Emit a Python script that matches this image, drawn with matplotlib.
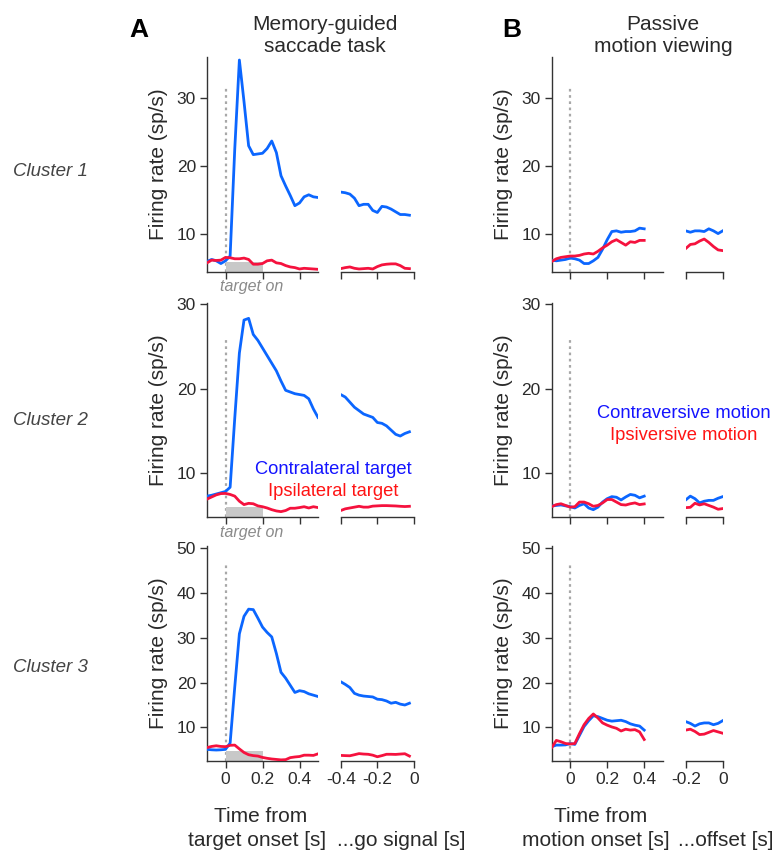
import matplotlib
matplotlib.use("Agg")
import matplotlib.pyplot as plt

plt.rcParams["font.family"] = ["Liberation Sans", "DejaVu Sans"]
plt.rcParams["axes.unicode_minus"] = False

# ---- data -------------------------------------------------------------
# memory-guided saccade task, aligned to target onset / go signal
mg_t_on = [-0.1, -0.075, -0.05, -0.025, 0.0, 0.025, 0.05, 0.075, 0.1, 0.125,
           0.15, 0.175, 0.2, 0.225, 0.25, 0.275, 0.3, 0.325, 0.35, 0.375,
           0.4, 0.425, 0.45, 0.475, 0.5]
mg_t_go = [-0.4, -0.375, -0.35, -0.325, -0.3, -0.275, -0.25, -0.225, -0.2,
           -0.175, -0.15, -0.125, -0.1, -0.075, -0.05, -0.025]

mg1_contra_on = [6.0, 6.3, 6.1, 5.7, 6.1, 6.8, 22.5, 35.6, 29.5, 23.0, 21.7, 21.8,
                 21.9, 22.6, 23.7, 22.0, 18.6, 17.1, 15.7, 14.2, 14.6, 15.5, 15.8,
                 15.5, 15.4]
mg1_ipsi_on = [5.8, 6.2, 6.15, 6.2, 6.6, 6.55, 6.4, 6.4, 6.5, 6.3, 5.6, 5.6, 5.7,
               6.1, 6.2, 5.8, 5.7, 5.4, 5.2, 5.1, 4.9, 5.0, 4.95, 4.9, 4.85]
mg1_contra_go = [16.2, 16.1, 15.9, 15.3, 14.2, 14.4, 14.4, 13.5, 13.2, 14.1, 14.0,
                 13.7, 13.3, 12.9, 12.9, 12.8]
mg1_ipsi_go = [4.95, 5.1, 5.2, 5.0, 4.9, 4.95, 5.0, 4.9, 5.25, 5.5, 5.6, 5.65,
               5.65, 5.4, 5.0, 4.95]

mg2_contra_on = [7.3, 7.4, 7.55, 7.7, 7.85, 8.35, 16.5, 24.2, 28.1, 28.3, 26.4,
                 25.7, 24.8, 23.9, 23.0, 22.1, 20.9, 19.8, 19.6, 19.4, 19.3, 19.2,
                 18.8, 17.6, 16.6]
mg2_ipsi_on = [6.95, 7.2, 7.45, 7.6, 7.62, 7.5, 7.3, 6.7, 6.3, 6.45, 6.4, 6.15,
               6.05, 5.9, 5.7, 5.55, 5.47, 5.6, 5.87, 5.87, 5.95, 6.05, 5.9, 6.05,
               5.95]
mg2_contra_go = [19.3, 19.0, 18.4, 17.8, 17.4, 17.0, 16.8, 16.6, 16.0, 15.9, 15.6,
                 15.1, 14.6, 14.4, 14.7, 14.9]
mg2_ipsi_go = [5.6, 5.8, 5.9, 6.0, 6.1, 6.0, 6.0, 6.12, 6.15, 6.18, 6.18, 6.16,
               6.14, 6.1, 6.07, 6.1]

mg3_contra_on = [5.1, 5.0, 4.95, 5.0, 5.1, 6.5, 19.0, 30.9, 34.8, 36.4, 36.3, 34.4,
                 32.4, 31.2, 30.2, 26.5, 22.3, 21.0, 19.4, 17.8, 18.2, 18.0, 17.5,
                 17.2, 16.9]
mg3_ipsi_on = [5.5, 5.75, 5.9, 5.75, 5.7, 6.0, 6.05, 5.2, 4.4, 3.9, 3.7, 3.6, 3.3,
               3.1, 2.95, 2.85, 2.75, 2.8, 3.25, 3.4, 3.5, 3.8, 3.8, 3.75, 4.1]
mg3_contra_go = [20.2, 19.6, 18.9, 17.6, 17.2, 17.0, 16.9, 16.8, 16.3, 16.2, 15.9,
                 15.4, 15.6, 15.2, 15.0, 15.4]
mg3_ipsi_go = [3.75, 3.7, 3.67, 3.9, 4.15, 4.05, 4.0, 3.8, 3.45, 3.7, 4.0, 4.0,
               3.97, 4.05, 4.12, 3.6]

# passive motion viewing, aligned to motion onset / offset
pm_t_on = [-0.1, -0.075, -0.05, -0.025, 0.0, 0.025, 0.05, 0.075, 0.1, 0.125, 0.15,
           0.175, 0.2, 0.225, 0.25, 0.275, 0.3, 0.325, 0.35, 0.375, 0.4]
pm_t_off = [-0.2, -0.175, -0.15, -0.125, -0.1, -0.075, -0.05, -0.025, 0.0]

pm1_contra_on = [6.2, 6.1, 6.2, 6.3, 6.5, 6.4, 6.2, 5.7, 5.7, 6.1, 6.6, 7.8, 9.2,
                 10.4, 10.5, 10.3, 10.4, 10.4, 10.5, 10.9, 10.8]
pm1_ipsi_on = [6.0, 6.4, 6.6, 6.7, 6.8, 6.8, 6.9, 7.1, 7.2, 7.1, 7.5, 8.0, 8.4, 8.9,
               9.2, 8.8, 8.4, 8.9, 8.8, 9.1, 9.1]
pm1_contra_off = [10.5, 10.3, 10.5, 10.5, 10.4, 10.8, 10.5, 10.1, 10.5]
pm1_ipsi_off = [7.9, 8.5, 8.6, 9.0, 9.3, 8.8, 8.2, 7.7, 7.6]

pm2_contra_on = [6.14, 6.2, 6.26, 6.15, 6.06, 5.9, 6.2, 6.4, 5.9, 5.7, 6.0, 6.6, 7.0,
                 7.24, 7.17, 6.85, 7.2, 7.5, 7.4, 7.1, 7.3]
pm2_ipsi_on = [6.06, 6.3, 6.4, 6.2, 6.0, 6.05, 6.6, 6.6, 6.4, 6.1, 6.2, 6.5, 6.9,
               6.9, 6.6, 6.3, 6.25, 6.4, 6.5, 6.3, 6.38]
pm2_contra_off = [6.85, 7.3, 7.0, 6.5, 6.7, 6.8, 6.8, 7.05, 7.24]
pm2_ipsi_off = [5.94, 5.98, 6.46, 6.26, 6.4, 6.2, 6.0, 5.75, 5.83]

pm3_contra_on = [5.7, 6.05, 6.05, 6.1, 6.4, 6.2, 8.2, 10.2, 11.5, 12.6, 12.4, 12.0,
                 11.6, 11.4, 11.5, 11.6, 11.3, 10.8, 10.5, 10.3, 9.4]
pm3_ipsi_on = [5.5, 7.1, 6.8, 6.4, 6.3, 6.4, 8.6, 10.6, 12.0, 13.0, 12.1, 11.0, 10.5,
               10.1, 9.8, 9.2, 9.6, 9.4, 9.5, 9.0, 7.3]
pm3_contra_off = [11.3, 10.9, 10.3, 10.8, 11.0, 11.0, 10.6, 10.9, 11.5]
pm3_ipsi_off = [9.4, 9.6, 9.1, 8.4, 8.5, 8.9, 9.3, 9.0, 8.7]

cluster_names = ["Cluster 1", "Cluster 2", "Cluster 3"]
row_ylims = [(4.5, 36.0), (4.8, 30.15), (2.5, 50.5)]
row_yticks = [[10, 20, 30], [10, 20, 30], [10, 20, 30, 40, 50]]
row_marker_top = [31.5, 25.9, 47.0]

# ---- style --------------------------------------------------------------
BLUE = "#0b66ff"
RED = "#f5123e"
TEXT = "#2a2a2a"
SPINE = "#333333"

W, H = 777, 857
fig = plt.figure(figsize=(W / 100, H / 100), dpi=100)


def add_ax(x0, x1, y0, y1):
    """Axes placed in pixel coordinates (top-left origin)."""
    return fig.add_axes([x0 / W, 1 - y1 / H, (x1 - x0) / W, (y1 - y0) / H])


def style(ax, show_left):
    for s in ("top", "right"):
        ax.spines[s].set_visible(False)
    ax.spines["left"].set_visible(show_left)
    for s in ("left", "bottom"):
        ax.spines[s].set_color(SPINE)
        ax.spines[s].set_linewidth(1.0)
    ax.tick_params(direction="out", length=5, width=1, color=SPINE,
                   labelsize=12.5, labelcolor=TEXT, pad=3)
    if not show_left:
        ax.tick_params(axis="y", left=False, labelleft=False)


def ftext(px, py, s, **kw):
    fig.text(px / W, 1 - py / H, s, **kw)


rows_y = [(57.3, 271.7), (302.7, 517.3), (546.0, 761.0)]
cluster_y = [172, 420, 668]
# (main x0, main x1, second x0, second x1)
col_x = [(207.0, 318.0, 340.7, 414.0), (551.7, 662.7, 685.7, 722.7)]

mg_rows = [
    (mg1_contra_on, mg1_ipsi_on, mg1_contra_go, mg1_ipsi_go),
    (mg2_contra_on, mg2_ipsi_on, mg2_contra_go, mg2_ipsi_go),
    (mg3_contra_on, mg3_ipsi_on, mg3_contra_go, mg3_ipsi_go),
]
pm_rows = [
    (pm1_contra_on, pm1_ipsi_on, pm1_contra_off, pm1_ipsi_off),
    (pm2_contra_on, pm2_ipsi_on, pm2_contra_off, pm2_ipsi_off),
    (pm3_contra_on, pm3_ipsi_on, pm3_contra_off, pm3_ipsi_off),
]

for r in range(3):
    y0, y1 = rows_y[r]
    last = r == 2
    for c in range(2):
        mx0, mx1, sx0, sx1 = col_x[c]
        ax = add_ax(mx0, mx1, y0, y1)
        ax2 = add_ax(sx0, sx1, y0, y1)
        style(ax, True)
        style(ax2, False)

        if c == 0:
            t_on, t_end = mg_t_on, mg_t_go
            con_on, ips_on, con_end, ips_end = mg_rows[r]
            ax2.set_xlim(-0.4, 0.0)
            ax2.set_xticks([-0.4, -0.2, 0.0])
            ax2.set_xticklabels(["-0.4", "-0.2", "0"])
        else:
            t_on, t_end = pm_t_on, pm_t_off
            con_on, ips_on, con_end, ips_end = pm_rows[r]
            ax2.set_xlim(-0.2, 0.0)
            ax2.set_xticks([-0.2, 0.0])
            ax2.set_xticklabels(["-0.2", "0"])
        ax.set_xlim(-0.1, 0.5)
        ax.set_xticks([0.0, 0.2, 0.4])
        ax.set_xticklabels(["0", "0.2", "0.4"])

        for a in (ax, ax2):
            a.set_ylim(*row_ylims[r])
            a.set_yticks(row_yticks[r])
            if not last:
                a.tick_params(axis="x", labelbottom=False)

        ax.vlines(0, row_ylims[r][0], row_marker_top[r], colors="#a8a8a8",
                  linestyles=(0, (1.2, 1.6)), linewidth=1.6, zorder=1)
        if c == 0:
            ax.axvspan(0.0, 0.2, ymin=0, ymax=0.047, color="#c8c8c8", lw=0,
                       zorder=1)

        ax.plot(t_on, con_on, color=BLUE, lw=2.0, solid_joinstyle="round",
                zorder=3)
        ax.plot(t_on, ips_on, color=RED, lw=2.0, solid_joinstyle="round",
                zorder=4)
        ax2.plot(t_end, con_end, color=BLUE, lw=2.0, solid_joinstyle="round",
                 zorder=3)
        ax2.plot(t_end, ips_end, color=RED, lw=2.0, solid_joinstyle="round",
                 zorder=4)

        ax.set_ylabel("Firing rate (sp/s)", fontsize=15, color=TEXT,
                      labelpad=6)

    ftext(50, cluster_y[r], cluster_names[r], fontsize=13.5, style="italic",
          color="#444444", ha="center", va="center")
    if not last:
        ftext(252, y1 + 15, "target on", fontsize=11.5, style="italic",
              color="#8a8a8a", ha="center", va="center")

# panel letters and column titles
ftext(139, 30, "A", fontsize=19, fontweight="bold", color="black",
      ha="center", va="center")
ftext(512, 30, "B", fontsize=19, fontweight="bold", color="black",
      ha="center", va="center")
ftext(325, 35, "Memory-guided\nsaccade task", fontsize=15, color=TEXT,
      ha="center", va="center", linespacing=1.2)
ftext(663, 35, "Passive\nmotion viewing", fontsize=15, color=TEXT,
      ha="center", va="center", linespacing=1.2)

# condition labels
ftext(333, 469, "Contralateral target", fontsize=13.2, color="#1414ff",
      ha="center", va="center")
ftext(333, 491, "Ipsilateral target", fontsize=13.2, color="#ff1414",
      ha="center", va="center")
ftext(684, 413, "Contraversive motion", fontsize=13.2, color="#1414ff",
      ha="center", va="center")
ftext(684, 435, "Ipsiversive motion", fontsize=13.2, color="#ff1414",
      ha="center", va="center")

# time axis labels
ftext(261, 816, "Time from", fontsize=15, color=TEXT, ha="center", va="center")
ftext(257, 841, "target onset [s]", fontsize=15, color=TEXT, ha="center",
      va="center")
ftext(337, 841, "...go signal [s]", fontsize=15, color=TEXT, ha="left",
      va="center")
ftext(601, 816, "Time from", fontsize=15, color=TEXT, ha="center", va="center")
ftext(596, 841, "motion onset [s]", fontsize=15, color=TEXT, ha="center",
      va="center")
ftext(678, 841, "...offset [s]", fontsize=15, color=TEXT, ha="left",
      va="center")

fig.savefig("out.png", dpi=100)
